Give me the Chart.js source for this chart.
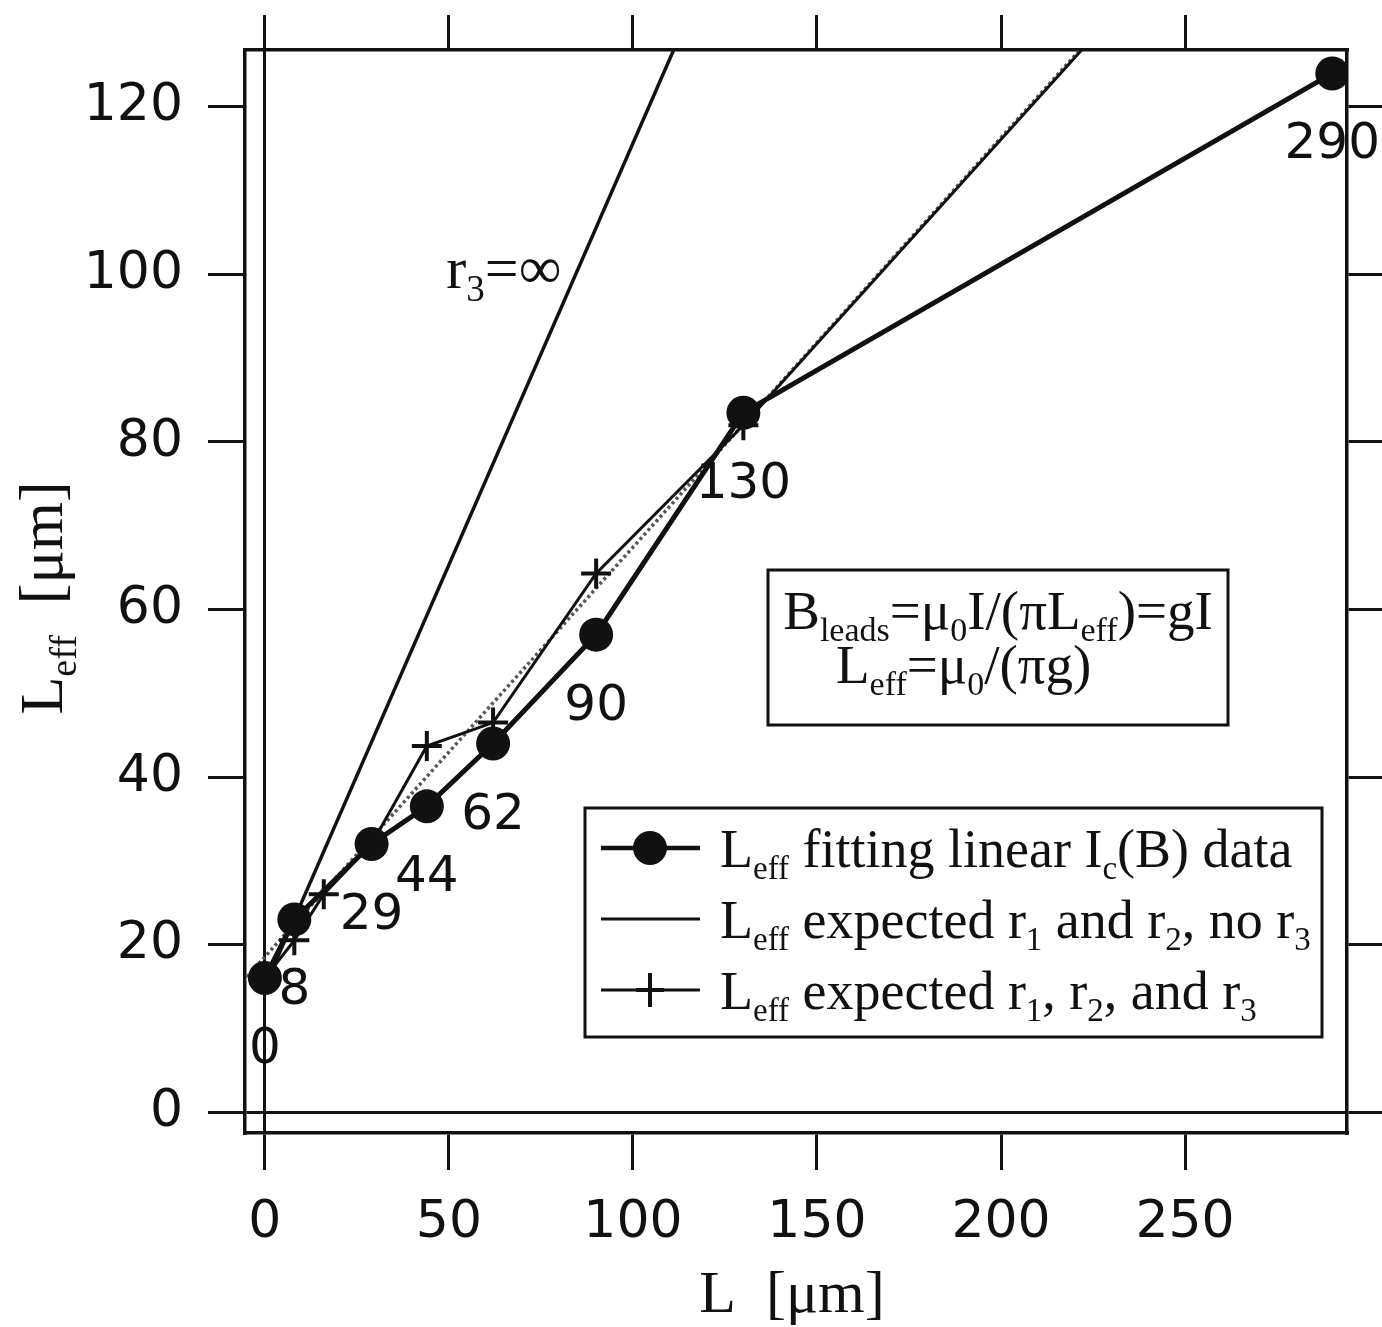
<!DOCTYPE html>
<html><head><meta charset="utf-8">
<script src="https://cdn.jsdelivr.net/npm/chart.js@4.4.0/dist/chart.umd.min.js"></script>
<style>html,body{margin:0;padding:0;background:#fff;}#wrap{width:1382px;height:1327px;position:relative;}</style>
</head><body><div id="wrap"><canvas id="c" width="1382" height="1327"></canvas></div>
<script>
// ---- data ----
const fitL = [0, 8, 29, 44, 62, 90, 130, 290];
const fitLeff = [16, 23, 32, 36.5, 44, 57, 83.5, 124];
const fitLabels = ['0', '8', '29', '44', '62', '90', '130', '290'];
const noR3L = [0, 120];
const noR3Leff = [15, 135.8];
const trendL = [-6, 240];
const trendLeff = [15.6, 135.9];
const r123L = [0, 8, 16, 29, 44, 62, 90, 130, 290];
const r123Leff = [16, 20.5, 26, 32, 43.7, 46.5, 64.3, 82, 160];
const xTickValues = [0, 50, 100, 150, 200, 250];
const yTickValues = [0, 20, 40, 60, 80, 100, 120];
const xRange = [-5.4, 294];
const yRange = [-2.5, 126.8];

const INK = '#111';
const SERIF = '"Liberation Serif", "DejaVu Serif", serif';
const SANS = '"DejaVu Sans", sans-serif';

const pts = (xs, ys) => xs.map((x, i) => ({x, y: ys[i]}));
const zeroOnly = (c) => (c.tick && c.tick.value === 0) ? INK : 'rgba(0,0,0,0)';

// rich text: parts = [[text, isSub], ...]
function richWidth(ctx, parts, size) {
  let w = 0;
  for (const [t, sub] of parts) {
    ctx.font = (sub ? Math.round(size * 0.62) : size) + 'px ' + SERIF;
    w += ctx.measureText(t).width;
  }
  return w;
}
function drawRich(ctx, parts, x, y, size, align) {
  const w = richWidth(ctx, parts, size);
  let cx = align === 'center' ? x - w / 2 : x;
  ctx.textAlign = 'left';
  ctx.textBaseline = 'alphabetic';
  for (const [t, sub] of parts) {
    const s = sub ? Math.round(size * 0.62) : size;
    ctx.font = s + 'px ' + SERIF;
    ctx.fillText(t, cx, sub ? y + size * 0.22 : y);
    cx += ctx.measureText(t).width;
  }
}

const legendRows = [
  {parts: [['L'], ['eff', 1], [' fitting linear I'], ['c', 1], ['(B) data']], kind: 'circle'},
  {parts: [['L'], ['eff', 1], [' expected r'], ['1', 1], [' and r'], ['2', 1], [', no r'], ['3', 1]], kind: 'line'},
  {parts: [['L'], ['eff', 1], [' expected r'], ['1', 1], [', r'], ['2', 1], [', and r'], ['3', 1]], kind: 'cross'}
];
const eqLine1 = [['B'], ['leads', 1], ['=μ'], ['0', 1], ['I/(πL'], ['eff', 1], [')=gI']];
const eqLine2 = [['L'], ['eff', 1], ['=μ'], ['0', 1], ['/(πg)']];

const decor = {
  id: 'decor',
  afterDatasetsDraw(chart) {
    const ctx = chart.ctx;
    const xs = chart.scales.x, ys = chart.scales.y;
    ctx.save();
    ctx.fillStyle = INK;
    ctx.strokeStyle = INK;
    // point labels
    ctx.font = '50px ' + SANS;
    ctx.textAlign = 'center';
    ctx.textBaseline = 'middle';
    fitL.forEach((v, i) => {
      ctx.fillText(fitLabels[i], xs.getPixelForValue(v), ys.getPixelForValue(fitLeff[i]) + 72);
    });
    // r3 = infinity annotation
    drawRich(ctx, [['r'], ['3', 1], ['=∞']], xs.getPixelForValue(49.3), ys.getPixelForValue(98.4), 60, 'left');

    // equation box
    const eqL = 768, eqT = 570, eqR = 1228, eqB = 725;
    ctx.fillStyle = '#fff';
    ctx.fillRect(eqL, eqT, eqR - eqL, eqB - eqT);
    ctx.lineWidth = 3;
    ctx.strokeRect(eqL, eqT, eqR - eqL, eqB - eqT);
    ctx.fillStyle = INK;
    drawRich(ctx, eqLine1, (eqL + eqR) / 2, 629, 55, 'center');
    drawRich(ctx, eqLine2, 836, 683, 55, 'left');

    // legend box
    const lgL = 585, lgT = 808, lgR = 1322, lgB = 1037;
    ctx.fillStyle = '#fff';
    ctx.fillRect(lgL, lgT, lgR - lgL, lgB - lgT);
    ctx.lineWidth = 3;
    ctx.strokeRect(lgL, lgT, lgR - lgL, lgB - lgT);
    legendRows.forEach((row, i) => {
      const base = 867 + i * 71;
      const ly = base - 19;
      ctx.strokeStyle = INK;
      ctx.fillStyle = INK;
      ctx.lineWidth = row.kind === 'circle' ? 4.5 : 3;
      ctx.beginPath(); ctx.moveTo(601, ly); ctx.lineTo(700, ly); ctx.stroke();
      if (row.kind === 'circle') {
        ctx.beginPath(); ctx.arc(650, ly, 17, 0, Math.PI * 2); ctx.fill();
      } else if (row.kind === 'cross') {
        ctx.lineWidth = 4;
        ctx.beginPath(); ctx.moveTo(650, ly - 17); ctx.lineTo(650, ly + 17); ctx.stroke();
        ctx.beginPath(); ctx.moveTo(636, ly); ctx.lineTo(664, ly); ctx.stroke();
      }
      drawRich(ctx, row.parts, 720, base, 54, 'left');
    });

    // axis titles
    ctx.fillStyle = INK;
    drawRich(ctx, [['L  [μm]']], 792, 1312, 60, 'center');
    ctx.save();
    ctx.translate(62, 598);
    ctx.rotate(-Math.PI / 2);
    drawRich(ctx, [['L'], ['eff', 1], ['  [μm]']], 0, 0, 62, 'center');
    ctx.restore();
    ctx.restore();
  }
};

const axisCommon = {
  type: 'linear',
  border: {display: true, color: INK, width: 3.5},
};
const noPadH = s => { s.paddingLeft = 0; s.paddingRight = 0; };
const noPadV = s => { s.paddingTop = 0; s.paddingBottom = 0; };

new Chart(document.getElementById('c'), {
  type: 'scatter',
  data: {
    datasets: [
      {label: 'fit', data: pts(fitL, fitLeff), showLine: true, borderColor: INK, backgroundColor: INK,
       borderWidth: 5, pointRadius: 17, pointHoverRadius: 17, pointBorderWidth: 0, order: 0},
      {label: 'r1 r2 r3', data: pts(r123L, r123Leff), showLine: true, borderColor: INK, backgroundColor: INK,
       borderWidth: 3, pointStyle: 'cross', pointRadius: 15, pointBorderWidth: 4, order: 1},
      {label: 'no r3', data: pts(noR3L, noR3Leff), showLine: true, borderColor: INK,
       borderWidth: 3.5, pointRadius: 0, order: 2},
      {label: 'trend', data: pts(trendL, trendLeff), showLine: true, borderColor: '#555',
       borderWidth: 3.5, borderDash: [3, 3], pointRadius: 0, order: 3}
    ]
  },
  options: {
    responsive: false,
    animation: false,
    events: [],
    layout: {padding: 0},
    plugins: {legend: {display: false}, tooltip: {enabled: false}},
    scales: {
      x: {...axisCommon, position: 'bottom', min: xRange[0], max: xRange[1],
          afterBuildTicks: s => { s.ticks = xTickValues.map(v => ({value: v})); },
          afterFit: s => { s.height = 194; noPadH(s); },
          grid: {color: zeroOnly, lineWidth: 3, tickColor: INK, tickWidth: 3, tickLength: 37, drawOnChartArea: true},
          ticks: {font: {family: SANS, size: 52}, color: INK, padding: 22, maxRotation: 0, autoSkip: false}},
      x2: {...axisCommon, position: 'top', min: xRange[0], max: xRange[1],
          afterBuildTicks: s => { s.ticks = xTickValues.map(v => ({value: v})); },
          afterFit: s => { s.height = 50; noPadH(s); },
          grid: {color: INK, lineWidth: 3, tickLength: 35, drawOnChartArea: false},
          ticks: {display: false}},
      y: {...axisCommon, position: 'left', min: yRange[0], max: yRange[1],
          afterBuildTicks: s => { s.ticks = yTickValues.map(v => ({value: v})); },
          afterFit: s => { s.width = 245; noPadV(s); },
          grid: {color: zeroOnly, lineWidth: 3, tickColor: INK, tickWidth: 3, tickLength: 37, drawOnChartArea: true},
          ticks: {font: {family: SANS, size: 52}, color: INK, padding: 25, autoSkip: false}},
      y2: {...axisCommon, position: 'right', min: yRange[0], max: yRange[1],
          afterBuildTicks: s => { s.ticks = yTickValues.map(v => ({value: v})); },
          afterFit: s => { s.width = 35; noPadV(s); },
          grid: {color: INK, lineWidth: 3, tickLength: 35, drawOnChartArea: false},
          ticks: {display: false}}
    }
  },
  plugins: [decor]
});
</script>
</body></html>
